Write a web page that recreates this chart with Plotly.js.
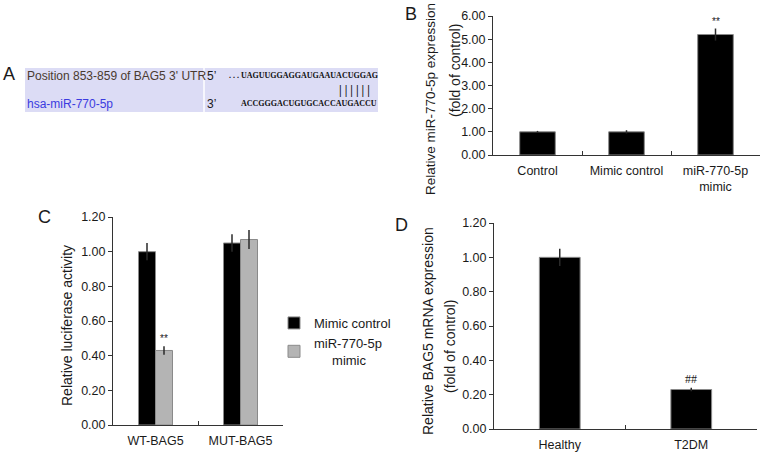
<!DOCTYPE html>
<html>
<head>
<meta charset="utf-8">
<script src="https://cdn.plot.ly/plotly-3.0.1.min.js"></script>
<style>html,body{margin:0;padding:0;background:#fff;}#chart{width:765px;height:454px;}</style>
</head>
<body>
<div id="chart"></div>
<script>
// ---------- data ----------
const bCategories = ['Control', 'Mimic control', 'miR-770-5p<br>mimic'];
const bValues = [1.00, 1.00, 5.20];
const bErrors = [0.04, 0.07, 0.26];
const bTicks = [0, 1, 2, 3, 4, 5, 6];

const cCategories = ['WT-BAG5', 'MUT-BAG5'];
const cSeriesNames = ['Mimic control', 'miR-770-5p<br>\u00a0\u00a0\u00a0\u00a0\u00a0mimic'];
const cMimicControl = [1.00, 1.05];
const cMimicControlErr = [0.05, 0.05];
const cMiR = [0.43, 1.07];
const cMiRErr = [0.025, 0.055];
const cTicks = [0, 0.2, 0.4, 0.6, 0.8, 1.0, 1.2];

const dCategories = ['Healthy', 'T2DM'];
const dValues = [1.00, 0.23];
const dErrors = [0.05, 0.01];
const dTicks = [0, 0.2, 0.4, 0.6, 0.8, 1.0, 1.2];

const aRowLabels = ["Position 853-859 of BAG5 3' UTR", 'hsa-miR-770-5p'];
const aEnds = ['5\u2019', '3\u2019'];
const aSeqs = ['. . . UAGUUGGAGGAUGAAUACUGGAG', 'ACCGGGACUGUGCACCAUGACCU'];
const aPairs = '| | | | | |';

const panelLabels = ['A', 'B', 'C', 'D'];
const bTitle = ['Relative miR-770-5p expression', '(fold of control)'];
const cTitle = 'Relative luciferase activity';
const dTitle = ['Relative BAG5 mRNA expression', '(fold of control)'];
const sigB = '**', sigC = '**', sigD = '##';

// ---------- helpers ----------
const W = 765, H = 454;
const px = x => x / W;
const py = y => 1 - y / H;
const FONT = 'Liberation Sans, Arial, Helvetica, sans-serif';
const SERIF = 'Liberation Serif, Times New Roman, serif';
const TXT = '#1a1a1a';
const AXC = '#333';

function yAxis(domain, range, ticks, anchor) {
  return {
    domain: domain, range: range, anchor: anchor,
    tickvals: ticks, tickformat: '.2f',
    ticks: 'outside', ticklen: 4, tickwidth: 1, tickcolor: AXC,
    showline: true, linecolor: AXC, linewidth: 1,
    showgrid: false, zeroline: false, fixedrange: true,
    tickfont: {family: FONT, size: 12.5, color: TXT}
  };
}
function xAxis(domain, n, anchor) {
  return {
    domain: domain, anchor: anchor, type: 'category', range: [-0.5, n - 0.5],
    ticks: 'inside', tickson: 'boundaries', ticklen: 4, tickwidth: 1, tickcolor: AXC,
    ticklabelstandoff: 4,
    showline: true, linecolor: AXC, linewidth: 1,
    showgrid: false, zeroline: false, fixedrange: true,
    tickfont: {family: FONT, size: 12.5, color: TXT}
  };
}
const errStyle = arr => ({type: 'data', array: arr, visible: true, color: '#2a2a2a', thickness: 1.5, width: 0});
const barLine = {color: '#8a8a8a', width: 1};

const traces = [
  {type: 'bar', x: bCategories, y: bValues, xaxis: 'x', yaxis: 'y', width: 0.40,
   marker: {color: '#000', line: barLine}, error_y: errStyle(bErrors), showlegend: false, hoverinfo: 'none'},
  {type: 'bar', x: cCategories, y: cMimicControl, xaxis: 'x2', yaxis: 'y2', width: 0.2, offset: -0.2,
   name: cSeriesNames[0], marker: {color: '#000', line: barLine}, error_y: errStyle(cMimicControlErr), hoverinfo: 'none'},
  {type: 'bar', x: cCategories, y: cMiR, xaxis: 'x2', yaxis: 'y2', width: 0.2, offset: 0,
   name: cSeriesNames[1], marker: {color: '#b4b4b4', line: barLine}, error_y: errStyle(cMiRErr), hoverinfo: 'none'},
  {type: 'bar', x: dCategories, y: dValues, xaxis: 'x3', yaxis: 'y3', width: 0.31,
   marker: {color: '#000', line: barLine}, error_y: errStyle(dErrors), showlegend: false, hoverinfo: 'none'}
];

const ann = [];
function txt(text, x, y, opts) {
  ann.push(Object.assign({text: text, x: px(x), y: py(y), xref: 'paper', yref: 'paper',
    showarrow: false, xanchor: 'center', yanchor: 'middle',
    font: {family: FONT, size: 14, color: TXT}}, opts || {}));
}
// panel letters
txt(panelLabels[0], 9, 74, {font: {family: FONT, size: 18, color: TXT}});
txt(panelLabels[1], 411, 14, {font: {family: FONT, size: 18, color: TXT}});
txt(panelLabels[2], 44, 217, {font: {family: FONT, size: 18, color: TXT}});
txt(panelLabels[3], 401, 225, {font: {family: FONT, size: 18, color: TXT}});
// axis titles
txt(bTitle[0], 430, 99, {textangle: -90, font: {family: FONT, size: 13.5, color: TXT}});
txt(bTitle[1], 455, 71, {textangle: -90});
txt(cTitle, 67, 326, {textangle: -90});
txt(dTitle[0], 428, 331, {textangle: -90});
txt(dTitle[1], 450, 347, {textangle: -90});
// panel A text
txt(aRowLabels[0], 25, 76, {xanchor: 'left', font: {family: FONT, size: 12, color: '#4a3a30'}});
txt(aRowLabels[1], 25, 104, {xanchor: 'left', font: {family: FONT, size: 12, color: '#3b3be0'}});
txt(aEnds[0], 205, 76, {xanchor: 'left', font: {family: FONT, size: 12, color: TXT}});
txt(aEnds[1], 205, 104, {xanchor: 'left', font: {family: FONT, size: 12, color: TXT}});
txt('<b>' + aSeqs[0] + '</b>', 227, 76, {xanchor: 'left', font: {family: SERIF, size: 8, color: '#111'}});
txt('<b>' + aPairs + '</b>', 354, 90, {font: {family: SERIF, size: 12, color: '#111'}});
txt('<b>' + aSeqs[1] + '</b>', 239, 103, {xanchor: 'left', font: {family: SERIF, size: 8, color: '#111'}});
// significance marks (data coords)
ann.push({text: sigB, xref: 'x', yref: 'y', x: 2, y: bValues[2] + bErrors[2], yanchor: 'bottom', showarrow: false,
  font: {family: FONT, size: 10, color: TXT}});
ann.push({text: sigC, xref: 'x2', yref: 'y2', x: 0.1, y: cMiR[0] + cMiRErr[0], yanchor: 'bottom', showarrow: false,
  font: {family: FONT, size: 10, color: TXT}});
ann.push({text: sigD, xref: 'x3', yref: 'y3', x: 1, y: dValues[1] + dErrors[1], yanchor: 'bottom', showarrow: false,
  font: {family: SERIF, size: 12, color: TXT}});

const layout = {
  width: W, height: H,
  margin: {l: 0, r: 0, t: 0, b: 0},
  paper_bgcolor: '#fff', plot_bgcolor: 'rgba(0,0,0,0)',
  barmode: 'overlay',
  showlegend: true,
  legend: {x: px(274), y: py(308), xanchor: 'left', yanchor: 'top', bgcolor: 'rgba(0,0,0,0)',
    font: {family: FONT, size: 13, color: TXT}, tracegroupgap: 0, itemwidth: 30},
  xaxis: xAxis([px(493), px(760)], bCategories.length, 'y'),
  yaxis: yAxis([py(155), py(16)], [0, 6], bTicks, 'x'),
  xaxis2: xAxis([px(113), px(283)], cCategories.length, 'y2'),
  yaxis2: yAxis([py(425), py(217)], [0, 1.2], cTicks, 'x2'),
  xaxis3: xAxis([px(494), px(757)], dCategories.length, 'y3'),
  yaxis3: yAxis([py(429), py(223)], [0, 1.2], dTicks, 'x3'),
  shapes: [
    {type: 'rect', xref: 'paper', yref: 'paper', x0: px(25), x1: px(378), y0: py(112), y1: py(68),
     fillcolor: '#dcdcf5', line: {width: 0}, layer: 'below'},
    {type: 'line', xref: 'paper', yref: 'paper', x0: px(204), x1: px(204), y0: py(112), y1: py(68),
     line: {color: '#fff', width: 1.5}, layer: 'below'}
  ],
  annotations: ann
};

Plotly.newPlot('chart', traces, layout, {displayModeBar: false, staticPlot: true});
</script>
</body>
</html>
